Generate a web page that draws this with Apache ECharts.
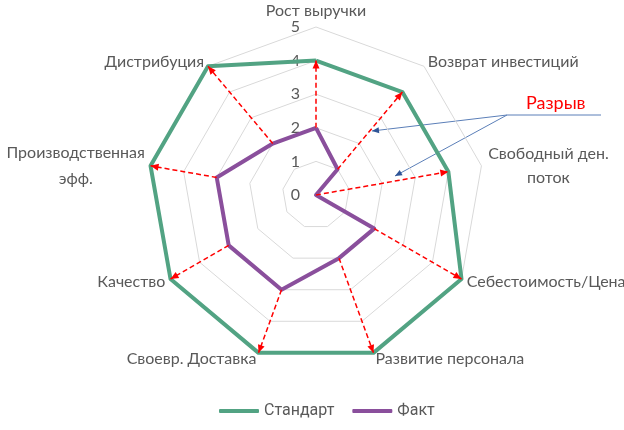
<!DOCTYPE html>
<html lang="ru">
<head>
<meta charset="UTF-8">
<script src="https://cdn.jsdelivr.net/npm/echarts@6/dist/echarts.min.js"></script>
<style>
  html, body { margin: 0; padding: 0; background: #fff; }
  #chart { width: 624px; height: 430px; }
</style>
</head>
<body>
<div id="chart"></div>
<script>
// показатели по часовой стрелке, начиная сверху
var indicators = ['Рост выручки', 'Возврат инвестиций', 'Свободный ден.\nпоток', 'Себестоимость/Цена',
    'Развитие персонала', 'Своевр. Доставка', 'Качество', 'Производственная\nэфф.', 'Дистрибуция'];
var standard = [4, 4, 4, 5, 5, 5, 5, 5, 5];
var fact = [2, 1, 0, 2, 2, 3, 3, 3, 2];
var ticks = ['0', '1', '2', '3', '4', '5'];

var CENTER = [316, 195];
var RADIUS = 168;
var GREY = '#595959';
var FONT = 'Lato, "Noto Sans", sans-serif';

// radar в echarts идёт против часовой - разворачиваем порядок
var order = [0];
for (var i = indicators.length - 1; i > 0; i--) order.push(i);
function reorder(arr) { return order.map(function (k) { return arr[k]; }); }

// подписи в две строки - по центру, как в excel
// (строка-пробел сверху опускает блок на полстроки, padding/rich тут не срабатывают)
var nameTweaks = {
    0: { nameGap: 2 },
    2: { nameGap: 68, prefix: '\u00a0\n', nameTextStyle: { align: 'center', verticalAlign: 'middle', lineHeight: 24 } },
    7: { nameGap: 76, prefix: '\u00a0\n', nameTextStyle: { align: 'center', verticalAlign: 'middle', lineHeight: 26 } }
};

var step = 360 / indicators.length;
// разрыв: от факта до стандарта по каждому лучу
var gaps = indicators.map(function (n, i) { return [i * step, fact[i], standard[i]]; });

function arrowHead(p1, p2, len, half) {
    var dx = p2[0] - p1[0], dy = p2[1] - p1[1];
    var d = Math.sqrt(dx * dx + dy * dy) || 1;
    var ux = dx / d, uy = dy / d;
    var bx = p2[0] - ux * len, by = p2[1] - uy * len;
    return [[p2[0], p2[1]], [bx - uy * half, by + ux * half], [bx + uy * half, by - ux * half]];
}

var chart = echarts.init(document.getElementById('chart'));
var option = {
    animation: false,
    legend: {
        bottom: 6,
        left: 214,
        icon: 'roundRect',
        itemWidth: 40,
        itemHeight: 4,
        itemGap: 18,
        textStyle: { color: GREY, fontSize: 16, fontFamily: 'Roboto, sans-serif' },
        data: ['Стандарт', 'Факт']
    },
    radar: {
        center: CENTER,
        radius: RADIUS,
        startAngle: 90,
        shape: 'polygon',
        splitNumber: 5,
        axisName: { color: GREY, fontSize: 16, fontFamily: FONT },
        nameGap: 6,
        axisLine: { show: false },
        axisTick: { show: false },
        splitArea: { show: false },
        splitLine: { lineStyle: { color: '#d9d9d9', width: 1 } },
        axisLabel: { show: false },
        indicator: order.map(function (k, i) {
            var t = nameTweaks[k] || {};
            var o = { name: (t.prefix || '') + indicators[k], min: 0, max: 5 };
            if (t.nameGap != null) o.nameGap = t.nameGap;
            if (t.nameTextStyle) o.nameTextStyle = t.nameTextStyle;
            if (i === 0) {
                o.axisLabel = {
                    show: true, color: GREY, fontSize: 16, fontFamily: FONT, margin: 16,
                    formatter: function (v) { return ticks[Math.round(v)]; }
                };
            }
            return o;
        })
    },
    polar: { center: CENTER, radius: RADIUS },
    angleAxis: { type: 'value', min: 0, max: 360, startAngle: 90, clockwise: true, show: false },
    radiusAxis: { type: 'value', min: 0, max: 5, show: false },
    series: [
        {
            name: 'Стандарт',
            type: 'radar',
            symbol: 'none',
            lineStyle: { color: '#52a383', width: 4 },
            itemStyle: { color: '#52a383' },
            data: [{ value: reorder(standard), name: 'Стандарт' }]
        },
        {
            name: 'Факт',
            type: 'radar',
            symbol: 'none',
            lineStyle: { color: '#8a4f9c', width: 4 },
            itemStyle: { color: '#8a4f9c' },
            data: [{ value: reorder(fact), name: 'Факт' }]
        },
        {
            type: 'custom',
            coordinateSystem: 'polar',
            silent: true,
            z: 5,
            data: gaps,
            renderItem: function (params, api) {
                var p1 = api.coord([api.value(1), api.value(0)]);
                var p2 = api.coord([api.value(2), api.value(0)]);
                return {
                    type: 'group',
                    children: [
                        { type: 'line', shape: { x1: p1[0], y1: p1[1], x2: p2[0], y2: p2[1] },
                          style: { stroke: '#ff0000', lineWidth: 1.5, lineDash: [5, 3] } },
                        { type: 'polygon', shape: { points: arrowHead(p1, p2, 8, 3.5) },
                          style: { fill: '#ff0000' } }
                    ]
                };
            }
        }
    ],
    graphic: [
        { type: 'text', left: 526, top: 94, style: { text: 'Разрыв', fill: '#ff0000', fontSize: 18, fontFamily: FONT } },
        { type: 'line', shape: { x1: 507, y1: 115, x2: 601, y2: 115 }, style: { stroke: '#5b7fb8', lineWidth: 1 } },
        { type: 'line', shape: { x1: 507, y1: 115, x2: 372, y2: 131 }, style: { stroke: '#5b7fb8', lineWidth: 1 } },
        { type: 'polygon', shape: { points: arrowHead([507, 115], [372, 131], 7, 3) }, style: { fill: '#2f5597' } },
        { type: 'line', shape: { x1: 507, y1: 115, x2: 395, y2: 176 }, style: { stroke: '#5b7fb8', lineWidth: 1 } },
        { type: 'polygon', shape: { points: arrowHead([507, 115], [395, 176], 7, 3) }, style: { fill: '#2f5597' } }
    ]
};
chart.setOption(option);
</script>
</body>
</html>
